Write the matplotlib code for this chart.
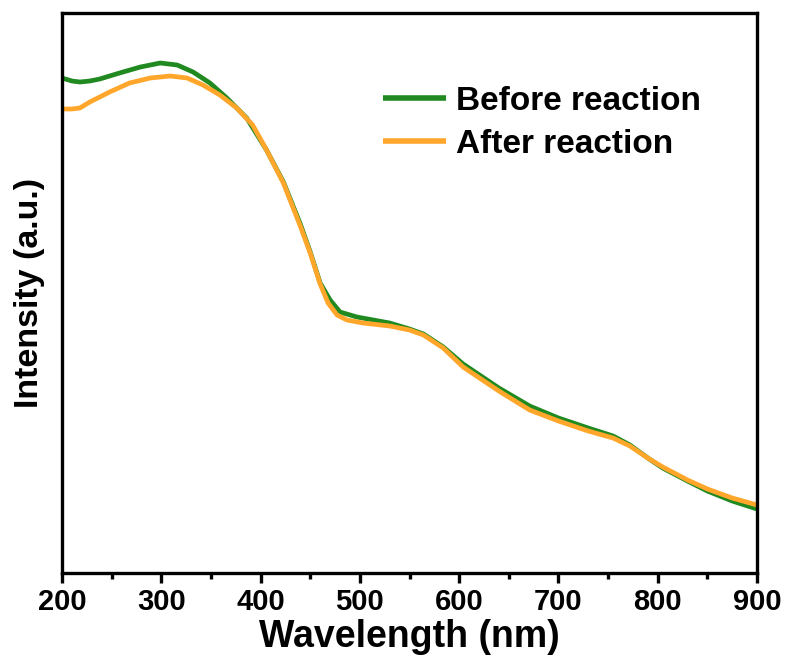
"""
UV-vis absorption spectra, before/after reaction.
"""

import matplotlib
matplotlib.use('Agg')
import matplotlib.pyplot as plt
from matplotlib.ticker import MultipleLocator

# ─── Data (arbitrary units) ──────────────────────────────────────────────────
wl_before = [200, 210, 218, 228, 238, 258, 279, 299, 316, 332, 349, 366,
             386, 406, 423, 440, 450, 460, 470, 480, 497, 530, 550, 564,
             584, 604, 640, 671, 700, 730, 755, 772, 790, 805, 830, 850,
             875, 900]
before = [495, 492, 491, 492, 494, 500, 506, 510, 508, 501, 490, 475,
          455, 423, 391, 349, 321, 290, 273, 261, 256, 250, 244, 239,
          226, 209, 185, 167, 155, 145, 137, 128, 115, 105, 92, 82,
          72, 64]

wl_after = [200, 210, 218, 228, 248, 268, 289, 309, 326, 342, 359, 376,
            392, 406, 423, 440, 450, 460, 468, 477, 487, 503, 530, 550,
            564, 584, 604, 640, 671, 700, 730, 755, 772, 790, 805, 830,
            850, 875, 900]
after = [464, 464, 465, 471, 481, 490, 495, 497, 495, 488, 478, 465,
         448, 423, 390, 347, 320, 289, 270, 258, 253, 250, 247, 243,
         238, 225, 206, 182, 163, 152, 142, 135, 127, 115, 106, 93,
         84, 75, 68]

labels = ['Before reaction', 'After reaction']
colors = ['#208a20', '#ffa62b']
x_ticks = [200, 300, 400, 500, 600, 700, 800, 900]

plt.rcParams['font.family'] = ['Liberation Sans', 'DejaVu Sans']
plt.rcParams['font.weight'] = 'bold'

fig = plt.figure(figsize=(7.85, 6.68), dpi=100)
ax = fig.add_axes([62 / 785, 95 / 668, 695 / 785, 560 / 668])

ax.plot(wl_before, before, color=colors[0], linewidth=3.4,
        solid_joinstyle='round', solid_capstyle='butt', label=labels[0])
ax.plot(wl_after, after, color=colors[1], linewidth=3.4,
        solid_joinstyle='round', solid_capstyle='butt', label=labels[1])

ax.set_xlim(200, 900)
ax.set_ylim(0, 560)
ax.set_xticks(x_ticks)
ax.xaxis.set_minor_locator(MultipleLocator(50))
ax.set_yticks([])

for sp in ax.spines.values():
    sp.set_linewidth(2.4)

ax.tick_params(axis='x', which='major', direction='out', length=7, width=2.4,
               labelsize=21, pad=4)
ax.tick_params(axis='x', which='minor', direction='out', length=4, width=2.4)
for lab in ax.get_xticklabels():
    lab.set_fontweight('bold')

ax.set_xlabel('Wavelength (nm)', fontsize=27, fontweight='bold', labelpad=2)
ax.set_ylabel('Intensity (a.u.)', fontsize=24.5, fontweight='bold',
              labelpad=12)

leg = ax.legend(loc='upper left', bbox_to_anchor=(383 / 785, 1 - 86 / 668),
                bbox_transform=fig.transFigure, frameon=False,
                fontsize=24, handlelength=1.9, handletextpad=0.3,
                labelspacing=0.36, borderpad=0, borderaxespad=0)
for t in leg.get_texts():
    t.set_fontweight('bold')
for h in leg.get_lines():
    h.set_linewidth(4)

fig.savefig('out.png', dpi=100)
plt.close(fig)
